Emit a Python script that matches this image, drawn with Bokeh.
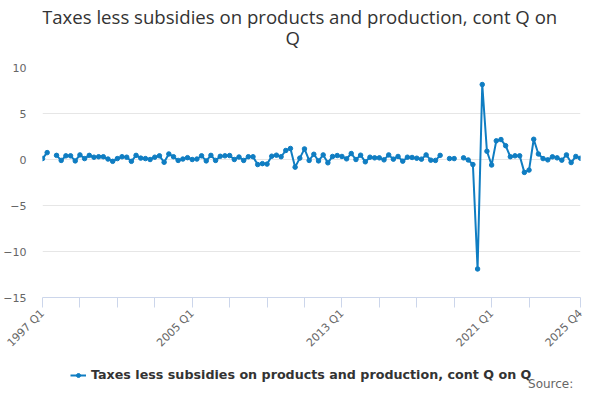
import math
from bokeh.plotting import figure
from bokeh.layouts import column
from bokeh.models import (Range1d, FixedTicker, Legend, LegendItem, Label, ColumnDataSource)
from bokeh.embed import file_html
from bokeh.resources import INLINE

series_name = "Taxes less subsidies on products and production, cont Q on Q"
title_line1 = "Taxes less subsidies on products and production, cont Q on"
title_line2 = "Q"
source_text = "Source:"

start_year = 1997
end_year = 2025
quarters = [f"{y} Q{q}" for y in range(start_year, end_year + 1) for q in range(1, 5)]

nan = float("nan")
values = [
    0.1, 0.75, nan, 0.45, -0.1, 0.4, 0.4, -0.15, 0.5, 0.1,
    0.45, 0.25, 0.3, 0.3, 0.05, -0.2, 0.1, 0.3, 0.25, -0.2,
    0.45, 0.15, 0.1, 0.0, 0.25, 0.4, -0.3, 0.6, 0.3, -0.1,
    0.05, 0.2, 0.0, 0.05, 0.4, -0.15, 0.45, -0.1, 0.35, 0.4,
    0.43, 0.0, 0.27, -0.1, 0.3, 0.3, -0.55, -0.45, -0.5, 0.36,
    0.47, 0.3, 0.98, 1.2, -0.83, 0.15, 1.15, -0.1, 0.57, -0.15,
    0.5, -0.36, 0.33, 0.43, 0.33, 0.07, 0.65, 0.0, 0.47, -0.25,
    0.25, 0.18, 0.18, -0.04, 0.5, 0.04, 0.33, -0.18, 0.25, 0.22,
    0.14, 0.04, 0.5, -0.07, -0.1, 0.45, nan, 0.1, 0.1, nan,
    0.18, -0.05, -0.55, -11.9, 8.15, 0.9, -0.6, 2.03, 2.17, 1.5,
    0.3, 0.4, 0.4, -1.4, -1.15, 2.2, 0.6, 0.1, -0.04, 0.29,
    0.18, -0.07, 0.5, -0.33, 0.33, 0.14,
]

y_ticks = [-15, -10, -5, 0, 5, 10]
labelled_quarters = ["1997 Q1", "2005 Q1", "2013 Q1", "2021 Q1", "2025 Q4"]

idx = list(range(len(quarters)))
src = ColumnDataSource(data=dict(x=idx, y=values, q=quarters))

line_color = "#0F7DC2"
W = 584
FRAME_L, FRAME_R = 44, 582  # page x of the chart's plotting area


def strip(height):
    f = figure(width=W, height=height, output_backend="svg", toolbar_location=None,
               x_range=Range1d(FRAME_L, FRAME_R), y_range=Range1d(0, height),
               x_axis_type=None, y_axis_type=None, min_border=0)
    f.outline_line_color = None
    f.xgrid.grid_line_color = None
    f.ygrid.grid_line_color = None
    return f


# title strip
p0 = strip(58)
for txt, tx, ty in [(title_line1, 304, 42), (title_line2, 297, 21)]:
    p0.add_layout(Label(x=tx, y=ty, text=txt, text_align="center", text_baseline="middle",
                        text_font="Open Sans", text_font_size="18.6px", text_color="#333333"))

# main chart
p = figure(frame_width=538, frame_height=230, output_backend="svg", toolbar_location=None,
           x_range=Range1d(0, len(quarters) - 1), y_range=Range1d(min(y_ticks), max(y_ticks)),
           min_border_left=36, min_border_right=10, min_border_top=9, min_border_bottom=60)
p.outline_line_color = None
p.background_fill_color = "white"

ln = p.line("x", "y", source=src, line_color=line_color, line_width=2)
sc = p.scatter("x", "y", source=src, size=4.5, fill_color=line_color, line_color=line_color)

tick_pos = list(range(0, 105, 8)) + [len(quarters) - 1]
overrides = {}
for t in tick_pos:
    overrides[t] = quarters[t] if quarters[t] in labelled_quarters else ""
xa = p.xaxis[0]
xa.ticker = FixedTicker(ticks=tick_pos)
xa.major_label_overrides = overrides
xa.major_label_orientation = math.pi / 4
xa.axis_line_color = "#ccd6eb"
xa.major_tick_line_color = "#ccd6eb"
xa.major_tick_out = 10
xa.major_tick_in = 0
xa.minor_tick_line_color = None
xa.major_label_text_color = "#666666"
xa.major_label_text_font = "DejaVu Sans"
xa.major_label_text_font_size = "11px"
xa.major_label_standoff = 4

ya = p.yaxis[0]
ya.ticker = FixedTicker(ticks=y_ticks)
ya.axis_line_color = None
ya.major_tick_line_color = None
ya.minor_tick_line_color = None
ya.major_label_text_color = "#666666"
ya.major_label_text_font = "DejaVu Sans"
ya.major_label_text_font_size = "11px"
ya.major_label_standoff = 10

p.xgrid.grid_line_color = None
p.ygrid.grid_line_color = "#e6e6e6"
p.ygrid.ticker = FixedTicker(ticks=y_ticks)

# legend + source strip
p2 = strip(33)
dummy = ColumnDataSource(data=dict(x=[-1000], y=[-1000]))
ln2 = p2.line("x", "y", source=dummy, line_color=line_color, line_width=2)
sc2 = p2.scatter("x", "y", source=dummy, size=4.5, fill_color=line_color, line_color=line_color)

legend = Legend(items=[LegendItem(label=series_name, renderers=[ln2, sc2])],
                location=(28, 8), orientation="horizontal",
                border_line_color=None, background_fill_alpha=0,
                label_text_font="DejaVu Sans", label_text_font_style="bold",
                label_text_font_size="12.7px", label_text_color="#333333",
                glyph_width=16, glyph_height=10, label_standoff=5, margin=0, padding=2)
p2.add_layout(legend, "center")

p2.add_layout(Label(x=535, y=0, text=source_text,
                    text_align="left", text_baseline="bottom", text_font="DejaVu Sans",
                    text_font_size="12px", text_color="#666666"))

layout = column(p0, p, p2, spacing=0)
open("out.html", "w").write(file_html(layout, INLINE))
